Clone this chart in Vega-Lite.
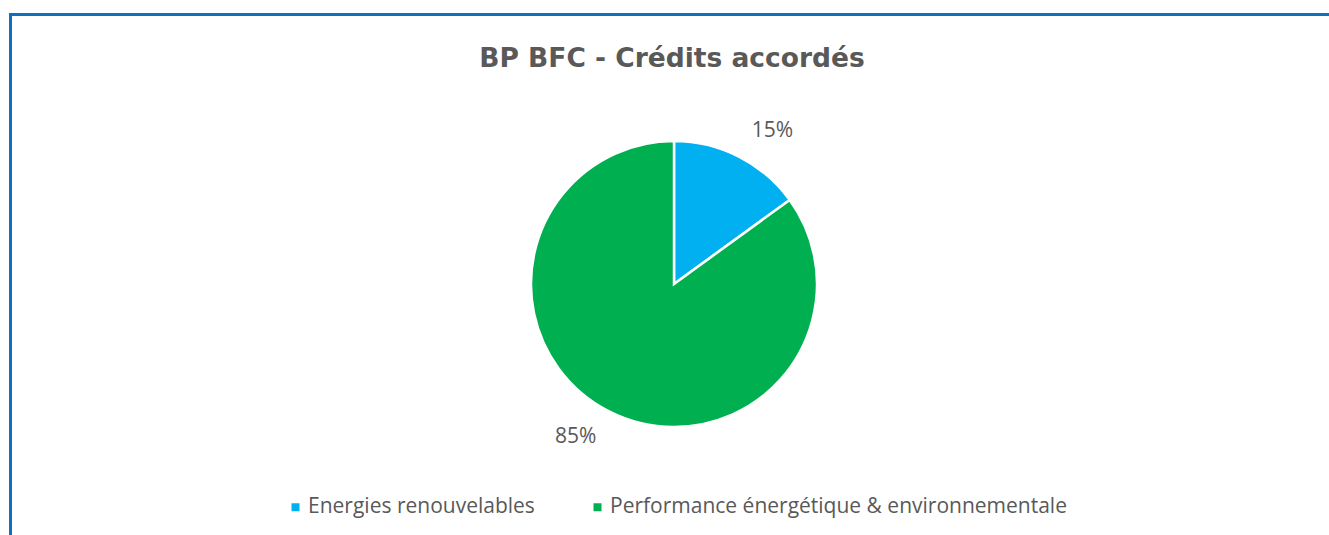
{
  "$schema": "https://vega.github.io/schema/vega-lite/v6.json",
  "autosize": "none",
  "width": 1327,
  "height": 539,
  "padding": {"left": 10.5, "top": 14.5, "right": -8.5, "bottom": -18.5},
  "background": "white",
  "title": {
    "text": "BP BFC - Crédits accordés",
    "anchor": "middle",
    "frame": "group",
    "orient": "top",
    "offset": -80,
    "baseline": "alphabetic",
    "dx": -2,
    "font": "DejaVu Sans",
    "fontSize": 26.5,
    "fontWeight": "bold",
    "color": "#595959"
  },
  "data": {
    "values": [
      {"categorie": "Energies renouvelables", "part": 15, "label": "15%"},
      {"categorie": "Performance énergétique & environnementale", "part": 85, "label": "85%"}
    ]
  },
  "layer": [
    {
      "data": {"values": [{"cadre": "bordure"}]},
      "mark": {"type": "rect", "fill": null, "stroke": "#1070C0", "strokeWidth": 3},
      "encoding": {}
    },
    {
      "encoding": {
        "theta": {"field": "part", "type": "quantitative", "stack": true},
        "color": {
          "field": "categorie",
          "type": "nominal",
          "scale": {
            "domain": ["Energies renouvelables", "Performance énergétique & environnementale"],
            "range": ["#00B0F0", "#00B050"]
          },
          "legend": {
            "title": null,
            "orient": "none",
            "direction": "horizontal",
            "legendX": 274.5,
            "legendY": 482,
            "symbolType": "square",
            "symbolSize": 64,
            "symbolStrokeWidth": 0,
            "labelFont": "Open Sans",
            "labelFontSize": 21,
            "labelColor": "#595959",
            "labelOffset": 2,
            "labelLimit": 0,
            "columnPadding": 52
          }
        },
        "order": {"field": "part", "sort": "ascending"}
      },
      "layer": [
        {
          "mark": {"type": "arc", "outerRadius": 143, "stroke": "white", "strokeWidth": 2.5}
        },
        {
          "mark": {"type": "text", "radius": 182, "thetaOffset": 0.1, "font": "Open Sans", "fontSize": 21, "color": "#595959", "align": "center", "baseline": "middle"},
          "encoding": {"text": {"field": "label"}, "color": {"value": "#595959"}}
        }
      ]
    }
  ],
  "config": {
    "view": {"stroke": null}
  }
}
